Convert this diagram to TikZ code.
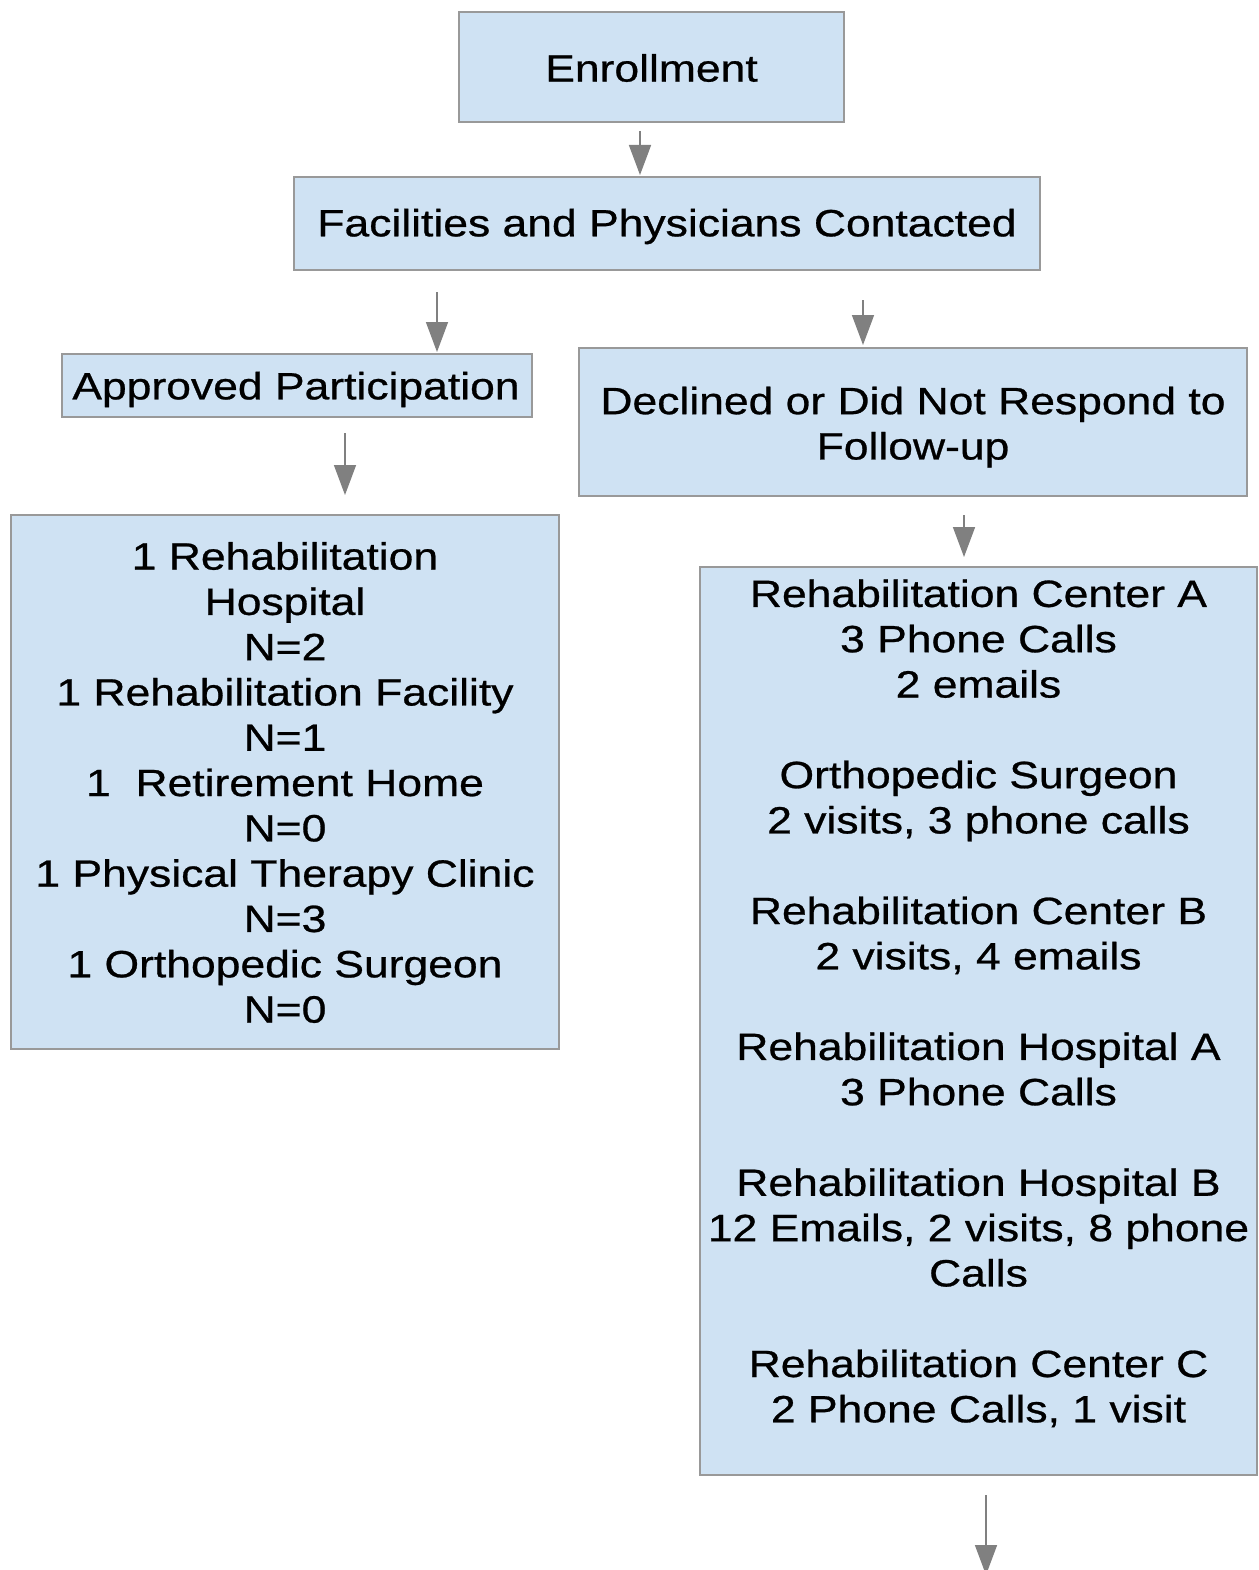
\documentclass[tikz,border=0pt]{standalone}
\usepackage{fontspec}
\setmainfont{Liberation Sans}[FakeStretch=1.17,FakeBold=0.7]
\usetikzlibrary{arrows.meta}
\definecolor{boxfill}{HTML}{CFE2F3}
\definecolor{boxline}{HTML}{999999}
\definecolor{arrcol}{HTML}{808080}
\begin{document}
\begin{tikzpicture}[x=1pt,y=-1pt,
  box/.style={draw=boxline, line width=1.5pt, fill=boxfill, inner sep=0pt},
  txt/.style={inner sep=0pt, align=center, font=\fontsize{38}{45.3}\selectfont, text=black},
  flow/.style={draw=arrcol, line width=1.5pt, -{Triangle[width=22pt,length=30pt]}}]
\useasboundingbox (0,0) rectangle (1258,1570);
\clip (0,0) rectangle (1258,1570);
\fill[white] (0,0) rectangle (1258,1570);

\node[box, minimum width=385pt, minimum height=110pt] (enr) at (651.5,67) {};
\node[box, minimum width=746pt, minimum height=93pt] (fac) at (667,223.5) {};
\node[box, minimum width=470pt, minimum height=63pt] (app) at (297,385.5) {};
\node[box, minimum width=668pt, minimum height=148pt] (dec) at (913,422) {};
\node[box, minimum width=548pt, minimum height=534pt] (lft) at (285,782) {};
\node[box, minimum width=557pt, minimum height=908pt] (rgt) at (978.5,1021) {};

\node[txt] (enrT) at ([yshift=-1pt]enr.center) {Enrollment};
\node[txt] (facT) at ([yshift=-3pt]fac.center) {Facilities and Physicians Contacted};
\node[txt] (appT) at ([xshift=-1pt,yshift=-4pt]app.center) {Approved Participation};
\node[txt] (decT) at ([yshift=-5pt]dec.center) {Declined or Did Not Respond to\\Follow-up};
\node[txt] (lftT) at ([yshift=-0.5pt]lft.center) {1 Rehabilitation\\Hospital\\N=2\\1 Rehabilitation Facility\\N=1\\1\ \ Retirement Home\\N=0\\1 Physical Therapy Clinic\\N=3\\1 Orthopedic Surgeon\\N=0};
\node[txt] (rgtT) at ([yshift=-2.5pt]rgt.center) {Rehabilitation Center A\\3 Phone Calls\\2 emails\\ \mbox{}\\Orthopedic Surgeon\\2 visits, 3 phone calls\\ \mbox{}\\Rehabilitation Center B\\2 visits, 4 emails\\ \mbox{}\\Rehabilitation Hospital A\\3 Phone Calls\\ \mbox{}\\Rehabilitation Hospital B\\12 Emails, 2 visits, 8 phone\\Calls\\ \mbox{}\\Rehabilitation Center C\\2 Phone Calls, 1 visit\\ \mbox{}};

\coordinate (a1s) at (640,131);  \coordinate (a1e) at (640,175);
\coordinate (a2s) at (437,292);  \coordinate (a2e) at (437,352);
\coordinate (a3s) at (863,300);  \coordinate (a3e) at (863,345);
\coordinate (a4s) at (345,433);  \coordinate (a4e) at (345,495);
\coordinate (a5s) at (964,515);  \coordinate (a5e) at (964,557);
\coordinate (a6s) at (986,1495); \coordinate (a6e) at (986,1575);
\draw[flow] (a1s) -- (a1e);
\draw[flow] (a2s) -- (a2e);
\draw[flow] (a3s) -- (a3e);
\draw[flow] (a4s) -- (a4e);
\draw[flow] (a5s) -- (a5e);
\draw[flow] (a6s) -- (a6e);
\end{tikzpicture}
\end{document}
